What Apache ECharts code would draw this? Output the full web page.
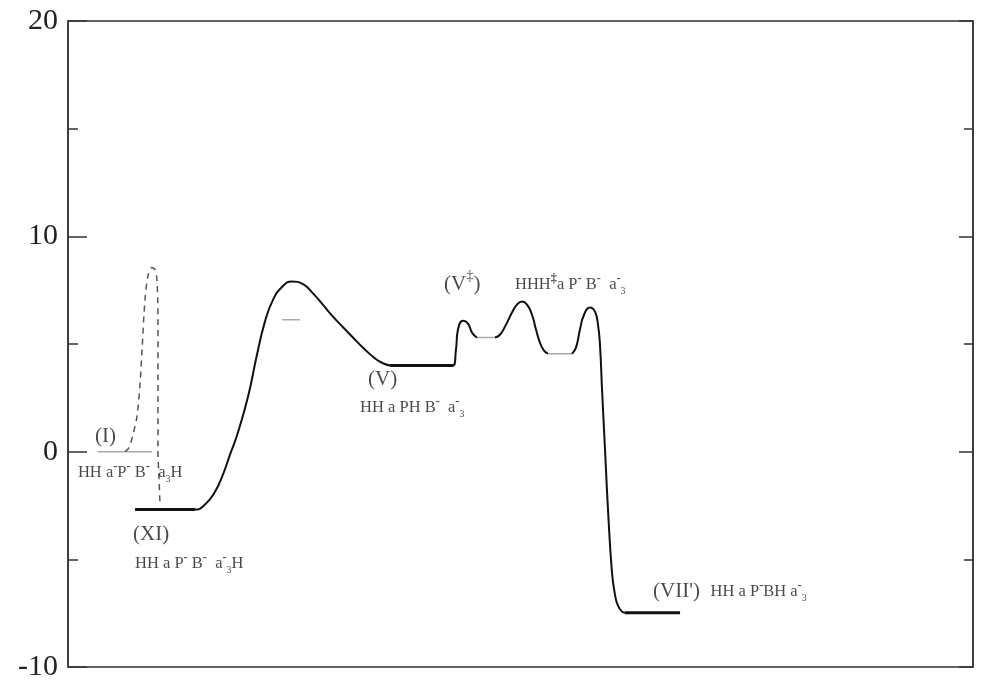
<!DOCTYPE html>
<html>
<head>
<meta charset="utf-8">
<script src="https://cdn.jsdelivr.net/npm/echarts@6/dist/echarts.min.js"></script>
<style>html,body{margin:0;padding:0;background:#fff}#c{width:989px;height:682px}</style>
</head>
<body>
<div id="c"></div>
<script>
// y axis
const yMin = -10, yMax = 20, yMajor = 10;

// main reaction path (solid black); null = gap (gray intermediate levels)
const pathX = [7.40, 14.03, 15.14, 16.24, 17.13, 17.90, 18.67, 19.89, 20.88, 21.77, 22.65, 23.65, 24.75, 25.97, 27.07, 28.18,
  29.28, 30.39, 31.49, 32.60, 33.70, 34.70, 35.80, 42.54,
  42.87, 43.09, 43.65, 44.20, 44.64, 45.19,
  45.5,
  47.18, 47.73, 48.40, 49.06, 49.61, 50.17, 50.72, 51.27, 51.71, 52.15, 52.60, 53.04,
  54.0,
  55.69, 56.13, 56.57, 57.02, 57.68, 58.23, 58.56, 58.78, 59.01, 59.34, 59.67, 60.11, 60.44, 60.77, 61.22, 61.55];
const pathY = [-2.69, -2.69, -2.45, -1.86, -1.05, -0.14, 0.75, 2.55, 4.50, 6.05, 7.05, 7.65, 7.90, 7.78, 7.35, 6.82,
  6.27, 5.78, 5.30, 4.83, 4.41, 4.13, 4.0, 4.0,
  4.74, 5.67, 6.08, 5.95, 5.53, 5.30,
  null,
  5.30, 5.43, 5.90, 6.46, 6.83, 6.97, 6.83, 6.36, 5.67, 5.06, 4.69, 4.55,
  null,
  4.55, 4.83, 5.67, 6.36, 6.69, 6.50, 5.90, 4.97, 2.88, 0.09, -2.69, -5.62, -6.64, -7.15, -7.43, -7.48];

// dashed path
const dashX = [6.30, 6.74, 7.18, 7.62, 7.96, 8.18, 8.51, 8.84, 9.28, 9.61, 9.83, 9.94, 9.94, 9.94, 10.06, 10.17];
const dashY = [0, 0.19, 0.79, 1.63, 3.16, 4.74, 7.06, 8.18, 8.55, 8.46, 7.99, 6.13, 3.34, 0.09, -1.30, -2.46];

// energy levels
const levelStart = [3.31, 7.40, 35.58, 45.19, 53.04, 23.65, 61.55];
const levelEnd   = [9.28, 14.03, 42.54, 47.18, 55.69, 25.64, 67.63];
const levelY     = [0, -2.69, 4.0, 5.30, 4.55, 6.13, -7.48];
const levelKind  = ['gray', 'bold', 'bold', 'gray', 'gray', 'gray', 'bold'];

// annotations (p = superscript, b = subscript)
const labelText = ['(I)', 'HH a{p|-}P{p|-} B{p|-}  a{b|3}H', '(XI)', 'HH a P{p|-} B{p|-}  a{p|-}{b|3}H',
  '(V)', 'HH a PH B{p|-}  a{p|-}{b|3}', '(V{q|\u2021})', 'HHH{p|\u2021}a P{p|-} B{p|-}  a{p|-}{b|3}',
  "(VII')", 'HH a P{p|-}BH a{p|-}{b|3}'];
const labelX = [2.98, 1.10, 7.18, 7.40, 33.15, 32.27, 41.55, 49.39, 64.64, 71.0];
const labelY = [0.70, -0.98, -3.86, -5.20, 3.34, 2.04, 7.75, 7.75, -6.50, -6.50];
const labelSize = [21, 16.5, 21, 16.5, 21, 16.5, 21, 16.5, 21, 16.5];

const zip = (a, b) => a.map((v, i) => [v, b[i] === null ? '-' : b[i]]);
const serif = '"Liberation Serif", "DejaVu Serif", serif';
const ink = '#1a1a1a';

const series = [];
series.push({
  type: 'line', data: zip(pathX, pathY), smooth: 0.5, showSymbol: false, symbol: 'none', connectNulls: false,
  lineStyle: {color: '#111', width: 2}, z: 3
});
series.push({
  type: 'line', data: zip(dashX, dashY), smooth: 0.3, showSymbol: false, symbol: 'none',
  lineStyle: {color: '#555', width: 1.5, type: [6, 5]}, z: 2
});
levelStart.forEach((s, i) => {
  const bold = levelKind[i] === 'bold';
  series.push({
    type: 'line', data: [[s, levelY[i]], [levelEnd[i], levelY[i]]], showSymbol: false, symbol: 'none',
    lineStyle: {color: bold ? '#111' : '#aaa', width: bold ? 3 : 1.5}, z: bold ? 4 : 1
  });
});
series.push({
  type: 'scatter', symbolSize: 0,
  data: labelText.map((t, i) => {
    const fs = labelSize[i];
    return {
      value: [labelX[i], labelY[i]], text: t,
      label: {
        fontSize: fs, lineHeight: fs * 1.3,
        rich: {
          p: {fontSize: fs * 0.75, fontWeight: 'bold', verticalAlign: 'top', lineHeight: fs * 1.4, fontFamily: serif, color: ink},
          q: {fontSize: fs * 0.7, verticalAlign: 'top', lineHeight: fs * 1.5, fontFamily: serif, color: ink},
          b: {fontSize: fs * 0.6, verticalAlign: 'bottom', lineHeight: fs * 1.1, fontFamily: serif, color: ink}
        }
      }
    };
  }),
  label: {
    show: true, position: 'right', distance: 0, color: ink, fontFamily: serif,
    formatter: p => p.data.text
  },
  z: 5
});

const yAxisBase = {
  type: 'value', min: yMin, max: yMax, interval: yMajor,
  axisLine: {show: true, lineStyle: {color: '#333', width: 1.5}},
  splitLine: {show: false}
};

const chart = echarts.init(document.getElementById('c'), null, {renderer: 'canvas'});
chart.setOption({
  backgroundColor: '#fff',
  animation: false,
  grid: {left: 68, right: 16, top: 21, bottom: 15, show: true, borderColor: '#333', borderWidth: 1.5},
  xAxis: {type: 'value', min: 0, max: 100, axisLine: {show: false}, axisTick: {show: false},
    axisLabel: {show: false}, splitLine: {show: false}},
  yAxis: [
    Object.assign({}, yAxisBase, {position: 'left',
      axisTick: {show: true, inside: true, length: 19, lineStyle: {color: '#333', width: 1.5}},
      minorTick: {show: true, splitNumber: 2, length: 10, lineStyle: {color: '#333', width: 1.5}},
      axisLabel: {show: true, fontFamily: serif, fontSize: 30, color: '#222', margin: 10}}),
    Object.assign({}, yAxisBase, {position: 'right',
      axisTick: {show: true, inside: true, length: 14, lineStyle: {color: '#333', width: 1.5}},
      minorTick: {show: true, splitNumber: 2, length: 9, lineStyle: {color: '#333', width: 1.5}},
      axisLabel: {show: false}})
  ],
  series: series
});
</script>
</body>
</html>
